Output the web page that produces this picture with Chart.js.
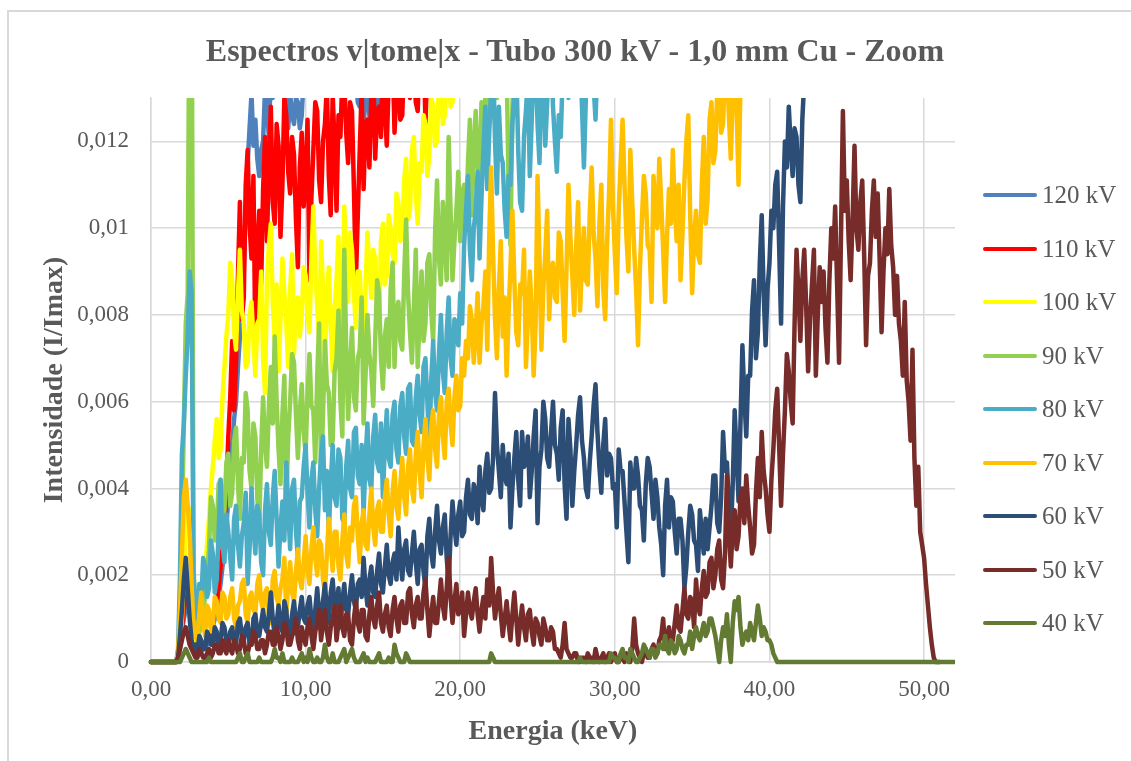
<!DOCTYPE html>
<html lang="pt">
<head>
<meta charset="utf-8">
<title>Espectros - Tubo 300 kV - 1,0 mm Cu</title>
<script src="https://cdn.jsdelivr.net/npm/chart.js@4.4.1/dist/chart.umd.min.js"></script>
<style>
  html, body { margin: 0; padding: 0; background: #ffffff; }
  #quadro { position: relative; width: 1131px; height: 761px; overflow: hidden; background: #ffffff; }
  #moldura { position: absolute; left: 7px; top: 10px; right: -4px; bottom: -4px; border-left: 2px solid #D9D9D9; border-top: 2px solid #D9D9D9; }
  #grafico { position: absolute; left: 0; top: 0; }
  #titulo { position: absolute; left: 575px; top: 30px; transform: translateX(-50%); white-space: nowrap;
            font-family: "Liberation Serif", "Times New Roman", serif; font-weight: bold; font-size: 32px;
            line-height: 40px; color: #595959; }
  .item { position: absolute; left: 983px; height: 30px; }
  .traco { position: absolute; left: 0; top: 13px; width: 54px; height: 4px; border-radius: 2px; }
  .rotulo { position: absolute; left: 59px; top: 0; white-space: nowrap; line-height: 30px;
            font-family: "Liberation Serif", "Times New Roman", serif; font-size: 25px; color: #595959; }
</style>
</head>
<body>
<div id="quadro">
  <div id="moldura"></div>
  <canvas id="grafico" width="1131" height="761"></canvas>
  <div id="titulo">Espectros v|tome|x - Tubo 300 kV - 1,0 mm Cu - Zoom</div>
  <div id="legenda"></div>
</div>
<script>
// Energia dos canais (keV), passo de 0,125 keV
const energia = [
  0,0.125,0.25,0.375,0.5,0.625,0.75,0.875,1,1.125,1.25,1.375,1.5,1.625,1.75,1.875,2,2.125,2.25,2.375,
  2.5,2.625,2.75,2.875,3,3.125,3.25,3.375,3.5,3.625,3.75,3.875,4,4.125,4.25,4.375,4.5,4.625,4.75,4.875,
  5,5.125,5.25,5.375,5.5,5.625,5.75,5.875,6,6.125,6.25,6.375,6.5,6.625,6.75,6.875,7,7.125,7.25,7.375,
  7.5,7.625,7.75,7.875,8,8.125,8.25,8.375,8.5,8.625,8.75,8.875,9,9.125,9.25,9.375,9.5,9.625,9.75,9.875,
  10,10.125,10.25,10.375,10.5,10.625,10.75,10.875,11,11.125,11.25,11.375,11.5,11.625,11.75,11.875,12,12.125,12.25,12.375,
  12.5,12.625,12.75,12.875,13,13.125,13.25,13.375,13.5,13.625,13.75,13.875,14,14.125,14.25,14.375,14.5,14.625,14.75,14.875,
  15,15.125,15.25,15.375,15.5,15.625,15.75,15.875,16,16.125,16.25,16.375,16.5,16.625,16.75,16.875,17,17.125,17.25,17.375,
  17.5,17.625,17.75,17.875,18,18.125,18.25,18.375,18.5,18.625,18.75,18.875,19,19.125,19.25,19.375,19.5,19.625,19.75,19.875,
  20,20.125,20.25,20.375,20.5,20.625,20.75,20.875,21,21.125,21.25,21.375,21.5,21.625,21.75,21.875,22,22.125,22.25,22.375,
  22.5,22.625,22.75,22.875,23,23.125,23.25,23.375,23.5,23.625,23.75,23.875,24,24.125,24.25,24.375,24.5,24.625,24.75,24.875,
  25,25.125,25.25,25.375,25.5,25.625,25.75,25.875,26,26.125,26.25,26.375,26.5,26.625,26.75,26.875,27,27.125,27.25,27.375,
  27.5,27.625,27.75,27.875,28,28.125,28.25,28.375,28.5,28.625,28.75,28.875,29,29.125,29.25,29.375,29.5,29.625,29.75,29.875,
  30,30.125,30.25,30.375,30.5,30.625,30.75,30.875,31,31.125,31.25,31.375,31.5,31.625,31.75,31.875,32,32.125,32.25,32.375,
  32.5,32.625,32.75,32.875,33,33.125,33.25,33.375,33.5,33.625,33.75,33.875,34,34.125,34.25,34.375,34.5,34.625,34.75,34.875,
  35,35.125,35.25,35.375,35.5,35.625,35.75,35.875,36,36.125,36.25,36.375,36.5,36.625,36.75,36.875,37,37.125,37.25,37.375,
  37.5,37.625,37.75,37.875,38,38.125,38.25,38.375,38.5,38.625,38.75,38.875,39,39.125,39.25,39.375,39.5,39.625,39.75,39.875,
  40,40.125,40.25,40.375,40.5,40.625,40.75,40.875,41,41.125,41.25,41.375,41.5,41.625,41.75,41.875,42,42.125,42.25,42.375,
  42.5,42.625,42.75,42.875,43,43.125,43.25,43.375,43.5,43.625,43.75,43.875,44,44.125,44.25,44.375,44.5,44.625,44.75,44.875,
  45,45.125,45.25,45.375,45.5,45.625,45.75,45.875,46,46.125,46.25,46.375,46.5,46.625,46.75,46.875,47,47.125,47.25,47.375,
  47.5,47.625,47.75,47.875,48,48.125,48.25,48.375,48.5,48.625,48.75,48.875,49,49.125,49.25,49.375,49.5,49.625,49.75,49.875,
  50,50.125,50.25,50.375,50.5,50.625,50.75,50.875,51,51.125,51.25,51.375,51.5,51.625,51.75,51.875,52
];

// Intensidade relativa (I/Imax) por tensão do tubo (uma linha = 2,5 keV)
const kv120 = [
  0,0,0,0,0,0,0,0,0,0,0,0,0,0,0.0001,0.0003,0.0007,0.0010,0.0012,0.0014,
  0.0016,0.0009,0.0004,0.0003,0.0002,0.0003,0.0002,0.0004,0.0003,0.0004,0.0005,0.0006,0.0008,0.0010,0.0012,0.0015,0.0018,0.0022,0.0026,0.0031,
  0.0038,0.0044,0.0050,0.0056,0.0060,0.0068,0.0075,0.0082,0.0090,0.0104,0.0115,0.0123,0.0131,0.0119,0.0125,0.0116,0.0112,0.0118,0.0120,0.0132,
  0.0128,0.0121,0.0136,0.0130,0.0142,0.0135,0.0138,0.0131,0.0133,0.0139,0.0127,0.0123,0.0131,0.0126,0.0124,0.0130,0.0129,0.0123,0.0126,0.0135,
  0.0133,0.0138,0.0140,0.0135,0.0146,0.0140,0.0139,0.0143,0.0144,0.0138,0.0137,0.0142,0.0148,0.0139,0.0141,0.0146,0.0145,0.0137,0.0138,0.0143,
  0.0147,0.0140,0.0136,0.0142,0.0141,0.0133,0.0134,0.0129,0.0128,0.0134,0.0124,0.0130,0.0131,0.0126,0.0123,0.0129,0.0127,0.0131,0.0125,0.0132,
  0.0136,0.0140,0.0143,0.0147,0.0150,0.0153,0.0156,0.0159,0.0162
];
const kv110 = [
  0,0,0,0,0,0,0,0,0,0,0,0,0,0,0.0001,0.0004,0.0008,0.0012,0.0015,0.0018,
  0.0020,0.0011,0.0005,0.0003,0.0002,0.0003,0.0003,0.0004,0.0004,0.0005,0.0006,0.0007,0.0009,0.0011,0.0014,0.0017,0.0022,0.0026,0.0031,0.0040,
  0.0052,0.0061,0.0074,0.0058,0.0069,0.0089,0.0106,0.0079,0.0084,0.0110,0.0118,0.0101,0.0093,0.0112,0.0073,0.0095,0.0104,0.0087,0.0109,0.0121,
  0.0097,0.0115,0.0128,0.0106,0.0101,0.0124,0.0119,0.0098,0.0110,0.0130,0.0126,0.0113,0.0108,0.0121,0.0117,0.0102,0.0091,0.0114,0.0122,0.0105,
  0.0112,0.0125,0.0088,0.0107,0.0118,0.0129,0.0127,0.0111,0.0106,0.0120,0.0124,0.0133,0.0112,0.0103,0.0131,0.0119,0.0104,0.0126,0.0121,0.0135,
  0.0134,0.0122,0.0115,0.0129,0.0127,0.0109,0.0088,0.0103,0.0118,0.0132,0.0109,0.0124,0.0125,0.0114,0.0131,0.0137,0.0116,0.0127,0.0128,0.0121,
  0.0139,0.0128,0.0119,0.0134,0.0133,0.0140,0.0122,0.0131,0.0137,0.0125,0.0126,0.0139,0.0141,0.0133,0.0130,0.0142,0.0138,0.0129,0.0127,0.0140,
  0.0136,0.0145,0.0124,0.0137,0.0140,0.0144,0.0147,0.0150,0.0152,0.0155,0.0158,0.0161,0.0165
];
const kv100 = [
  0,0,0,0,0,0,0,0,0,0,0,0,0,0,0.0001,0.0004,0.0010,0.0021,0.0030,0.0036,
  0.0035,0.0015,0.0006,0.0004,0.0003,0.0006,0.0010,0.0015,0.0021,0.0027,0.0033,0.0040,0.0045,0.0051,0.0056,0.0047,0.0049,0.0061,0.0068,0.0075,
  0.0080,0.0092,0.0088,0.0076,0.0072,0.0085,0.0095,0.0081,0.0078,0.0068,0.0069,0.0080,0.0083,0.0074,0.0066,0.0078,0.0079,0.0090,0.0070,0.0062,
  0.0088,0.0096,0.0101,0.0083,0.0074,0.0087,0.0067,0.0079,0.0093,0.0085,0.0078,0.0068,0.0086,0.0094,0.0071,0.0082,0.0084,0.0075,0.0080,0.0091,
  0.0089,0.0080,0.0076,0.0093,0.0105,0.0090,0.0082,0.0073,0.0097,0.0086,0.0070,0.0084,0.0091,0.0078,0.0067,0.0081,0.0088,0.0098,0.0079,0.0071,
  0.0105,0.0092,0.0083,0.0099,0.0095,0.0085,0.0077,0.0090,0.0090,0.0080,0.0072,0.0086,0.0099,0.0091,0.0084,0.0095,0.0093,0.0082,0.0078,0.0097,
  0.0101,0.0087,0.0089,0.0103,0.0100,0.0094,0.0092,0.0108,0.0106,0.0097,0.0098,0.0111,0.0116,0.0102,0.0104,0.0118,0.0121,0.0108,0.0101,0.0115,
  0.0113,0.0126,0.0124,0.0112,0.0117,0.0130,0.0128,0.0119,0.0120,0.0134,0.0133,0.0124,0.0126,0.0137,0.0135,0.0128,0.0129,0.0140,0.0138,0.0141,
  0.0142,0.0139,0.0136,0.0143,0.0145,0.0148,0.0150,0.0153,0.0155,0.0158,0.0160
];
const kv90 = [
  0,0,0,0,0,0,0,0,0,0,0,0,0,0,0.0002,0.0010,0.0030,0.0055,0.0078,0.0085,
  0.0170,0.0170,0.0022,0.0011,0.0006,0.0007,0.0009,0.0012,0.0015,0.0020,0.0026,0.0038,0.0036,0.0028,0.0030,0.0041,0.0042,0.0033,0.0035,0.0046,
  0.0048,0.0036,0.0039,0.0051,0.0054,0.0041,0.0033,0.0047,0.0046,0.0062,0.0058,0.0044,0.0040,0.0055,0.0052,0.0038,0.0031,0.0049,0.0061,0.0050,
  0.0045,0.0059,0.0068,0.0055,0.0075,0.0060,0.0049,0.0041,0.0057,0.0066,0.0036,0.0052,0.0060,0.0071,0.0069,0.0057,0.0047,0.0058,0.0064,0.0053,
  0.0048,0.0062,0.0071,0.0059,0.0058,0.0046,0.0066,0.0078,0.0043,0.0057,0.0074,0.0064,0.0062,0.0050,0.0051,0.0067,0.0070,0.0081,0.0060,0.0052,
  0.0095,0.0072,0.0056,0.0068,0.0077,0.0061,0.0058,0.0070,0.0072,0.0084,0.0055,0.0066,0.0080,0.0071,0.0067,0.0059,0.0074,0.0088,0.0085,0.0070,
  0.0063,0.0075,0.0079,0.0068,0.0086,0.0092,0.0068,0.0081,0.0083,0.0074,0.0072,0.0089,0.0102,0.0085,0.0076,0.0069,0.0082,0.0095,0.0068,0.0080,
  0.0090,0.0074,0.0078,0.0092,0.0094,0.0081,0.0074,0.0099,0.0111,0.0093,0.0087,0.0106,0.0098,0.0088,0.0121,0.0104,0.0088,0.0097,0.0104,0.0113,
  0.0097,0.0108,0.0110,0.0101,0.0115,0.0125,0.0103,0.0118,0.0127,0.0114,0.0112,0.0129,0.0120,0.0131,0.0133,0.0124,0.0126,0.0138,0.0136,0.0130,
  0.0131,0.0142,0.0140,0.0135,0.0138,0.0110,0.0096,0.0128,0.0142,0.0146,0.0150,0.0154,0.0158
];
const kv80 = [
  0,0,0,0,0,0,0,0,0,0,0,0,0,0,0.0003,0.0020,0.0048,0.0055,0.0066,0.0075,
  0.0090,0.0085,0.0020,0.0013,0.0010,0.0018,0.0014,0.0024,0.0022,0.0015,0.0017,0.0028,0.0025,0.0016,0.0019,0.0030,0.0042,0.0027,0.0023,0.0034,
  0.0030,0.0024,0.0019,0.0033,0.0036,0.0027,0.0022,0.0029,0.0032,0.0039,0.0018,0.0026,0.0040,0.0031,0.0025,0.0036,0.0034,0.0023,0.0020,0.0035,
  0.0041,0.0030,0.0027,0.0038,0.0044,0.0033,0.0022,0.0031,0.0037,0.0028,0.0046,0.0035,0.0026,0.0040,0.0042,0.0030,0.0024,0.0037,0.0038,0.0045,
  0.0050,0.0039,0.0031,0.0042,0.0046,0.0035,0.0029,0.0040,0.0048,0.0052,0.0035,0.0044,0.0030,0.0041,0.0050,0.0038,0.0036,0.0049,0.0047,0.0033,
  0.0032,0.0045,0.0051,0.0040,0.0038,0.0053,0.0054,0.0043,0.0041,0.0050,0.0034,0.0047,0.0055,0.0042,0.0040,0.0052,0.0057,0.0046,0.0044,0.0055,
  0.0038,0.0050,0.0058,0.0047,0.0045,0.0057,0.0060,0.0049,0.0046,0.0059,0.0062,0.0052,0.0048,0.0063,0.0064,0.0051,0.0050,0.0061,0.0066,0.0057,
  0.0053,0.0068,0.0070,0.0060,0.0049,0.0065,0.0074,0.0062,0.0058,0.0071,0.0080,0.0067,0.0062,0.0076,0.0084,0.0070,0.0066,0.0079,0.0078,0.0073,
  0.0085,0.0078,0.0096,0.0104,0.0112,0.0095,0.0088,0.0100,0.0104,0.0113,0.0093,0.0107,0.0118,0.0128,0.0109,0.0122,0.0132,0.0140,0.0120,0.0108,
  0.0128,0.0117,0.0115,0.0104,0.0098,0.0112,0.0110,0.0124,0.0131,0.0138,0.0118,0.0106,0.0104,0.0121,0.0127,0.0135,0.0112,0.0125,0.0136,0.0141,
  0.0124,0.0115,0.0133,0.0140,0.0119,0.0129,0.0138,0.0142,0.0128,0.0120,0.0113,0.0126,0.0121,0.0135,0.0136,0.0143,0.0130,0.0139,0.0140,0.0145,
  0.0134,0.0141,0.0142,0.0128,0.0114,0.0130,0.0137,0.0144,0.0141,0.0133,0.0125,0.0138,0.0139,0.0143,0.0146,0.0149,0.0152,0.0155,0.0158,0.0161,
  0.0165
];
const kv70 = [
  0,0,0,0,0,0,0,0,0,0,0,0,0,0,0.0002,0.0012,0.0025,0.0038,0.0042,0.0036,
  0.0030,0.0018,0.0008,0.0006,0.0005,0.0011,0.0016,0.0009,0.0006,0.0013,0.0012,0.0007,0.0008,0.0015,0.0014,0.0010,0.0009,0.0016,0.0015,0.0010,
  0.0011,0.0015,0.0017,0.0010,0.0008,0.0013,0.0014,0.0018,0.0019,0.0011,0.0009,0.0015,0.0016,0.0012,0.0011,0.0018,0.0020,0.0014,0.0012,0.0016,
  0.0017,0.0011,0.0009,0.0019,0.0021,0.0015,0.0013,0.0017,0.0019,0.0024,0.0011,0.0018,0.0023,0.0016,0.0014,0.0021,0.0026,0.0019,0.0017,0.0023,
  0.0029,0.0021,0.0018,0.0026,0.0031,0.0024,0.0020,0.0028,0.0027,0.0019,0.0016,0.0025,0.0033,0.0027,0.0021,0.0030,0.0030,0.0022,0.0019,0.0028,
  0.0034,0.0025,0.0022,0.0031,0.0028,0.0036,0.0038,0.0029,0.0023,0.0032,0.0035,0.0027,0.0026,0.0034,0.0040,0.0031,0.0027,0.0035,0.0037,0.0030,
  0.0030,0.0038,0.0042,0.0034,0.0029,0.0039,0.0044,0.0036,0.0033,0.0041,0.0047,0.0038,0.0034,0.0045,0.0049,0.0040,0.0037,0.0048,0.0053,0.0044,
  0.0038,0.0050,0.0056,0.0047,0.0042,0.0054,0.0058,0.0049,0.0045,0.0057,0.0061,0.0052,0.0047,0.0060,0.0063,0.0055,0.0050,0.0061,0.0066,0.0058,
  0.0059,0.0070,0.0066,0.0074,0.0070,0.0082,0.0079,0.0069,0.0076,0.0085,0.0069,0.0078,0.0082,0.0090,0.0072,0.0098,0.0114,0.0094,0.0079,0.0070,
  0.0086,0.0097,0.0075,0.0084,0.0066,0.0080,0.0091,0.0104,0.0088,0.0076,0.0073,0.0087,0.0085,0.0095,0.0068,0.0079,0.0090,0.0081,0.0066,0.0078,
  0.0112,0.0093,0.0072,0.0086,0.0094,0.0104,0.0079,0.0090,0.0092,0.0084,0.0083,0.0099,0.0097,0.0085,0.0074,0.0091,0.0110,0.0098,0.0089,0.0080,
  0.0096,0.0106,0.0081,0.0092,0.0100,0.0088,0.0087,0.0103,0.0114,0.0099,0.0093,0.0082,0.0101,0.0110,0.0086,0.0079,0.0097,0.0108,0.0125,0.0105,
  0.0094,0.0085,0.0104,0.0115,0.0125,0.0110,0.0098,0.0090,0.0118,0.0106,0.0095,0.0086,0.0073,0.0091,0.0102,0.0112,0.0108,0.0096,0.0095,0.0083,
  0.0112,0.0104,0.0100,0.0116,0.0106,0.0095,0.0083,0.0098,0.0109,0.0101,0.0118,0.0105,0.0097,0.0110,0.0088,0.0099,0.0111,0.0120,0.0126,0.0103,
  0.0085,0.0098,0.0104,0.0094,0.0092,0.0110,0.0121,0.0101,0.0107,0.0125,0.0129,0.0115,0.0118,0.0132,0.0135,0.0122,0.0124,0.0137,0.0138,0.0126,
  0.0116,0.0131,0.0140,0.0128,0.0110,0.0133,0.0136,0.0141,0.0142,0.0146,0.0150,0.0155,0.0160
];
const kv60 = [
  0,0,0,0,0,0,0,0,0,0,0,0,0,0,0.0001,0.0006,0.0012,0.0019,0.0024,0.0017,
  0.0010,0.0005,0.0003,0.0004,0.0002,0.0006,0.0005,0.0003,0.0003,0.0007,0.0006,0.0004,0.0004,0.0008,0.0007,0.0003,0.0005,0.0009,0.0008,0.0005,
  0.0003,0.0007,0.0008,0.0005,0.0004,0.0009,0.0010,0.0006,0.0005,0.0008,0.0009,0.0004,0.0004,0.0010,0.0011,0.0007,0.0006,0.0009,0.0012,0.0008,
  0.0007,0.0011,0.0016,0.0010,0.0006,0.0009,0.0013,0.0008,0.0007,0.0014,0.0012,0.0006,0.0006,0.0011,0.0014,0.0009,0.0008,0.0012,0.0015,0.0010,
  0.0009,0.0013,0.0015,0.0010,0.0007,0.0012,0.0017,0.0011,0.0010,0.0014,0.0018,0.0012,0.0009,0.0016,0.0019,0.0013,0.0012,0.0017,0.0008,0.0014,
  0.0018,0.0012,0.0011,0.0016,0.0020,0.0014,0.0012,0.0018,0.0019,0.0015,0.0024,0.0017,0.0013,0.0019,0.0022,0.0016,0.0015,0.0021,0.0025,0.0018,
  0.0016,0.0022,0.0027,0.0020,0.0018,0.0023,0.0025,0.0019,0.0031,0.0024,0.0019,0.0026,0.0028,0.0021,0.0020,0.0025,0.0030,0.0023,0.0018,0.0026,
  0.0027,0.0021,0.0017,0.0029,0.0033,0.0025,0.0022,0.0030,0.0036,0.0028,0.0025,0.0031,0.0034,0.0024,0.0018,0.0029,0.0037,0.0031,0.0027,0.0034,
  0.0037,0.0029,0.0030,0.0038,0.0042,0.0034,0.0033,0.0041,0.0039,0.0032,0.0045,0.0038,0.0035,0.0044,0.0048,0.0039,0.0040,0.0047,0.0062,0.0050,
  0.0044,0.0038,0.0050,0.0043,0.0041,0.0048,0.0031,0.0040,0.0047,0.0053,0.0042,0.0036,0.0053,0.0045,0.0046,0.0052,0.0038,0.0044,0.0052,0.0058,
  0.0032,0.0045,0.0049,0.0060,0.0056,0.0047,0.0045,0.0053,0.0060,0.0050,0.0048,0.0042,0.0054,0.0058,0.0041,0.0033,0.0056,0.0049,0.0036,0.0044,
  0.0050,0.0057,0.0061,0.0051,0.0047,0.0040,0.0038,0.0046,0.0052,0.0059,0.0064,0.0053,0.0045,0.0039,0.0050,0.0056,0.0043,0.0048,0.0047,0.0040,
  0.0041,0.0031,0.0049,0.0044,0.0044,0.0037,0.0030,0.0023,0.0046,0.0040,0.0040,0.0047,0.0043,0.0036,0.0035,0.0028,0.0041,0.0047,0.0045,0.0039,
  0.0033,0.0042,0.0038,0.0031,0.0027,0.0020,0.0036,0.0042,0.0031,0.0038,0.0037,0.0030,0.0025,0.0033,0.0033,0.0028,0.0017,0.0022,0.0030,0.0036,
  0.0034,0.0028,0.0027,0.0021,0.0035,0.0030,0.0025,0.0033,0.0026,0.0031,0.0036,0.0043,0.0043,0.0032,0.0030,0.0038,0.0053,0.0044,0.0046,0.0036,
  0.0029,0.0041,0.0058,0.0048,0.0037,0.0055,0.0073,0.0061,0.0052,0.0066,0.0066,0.0081,0.0088,0.0070,0.0076,0.0092,0.0103,0.0085,0.0073,0.0086,
  0.0092,0.0104,0.0100,0.0110,0.0113,0.0096,0.0078,0.0105,0.0120,0.0114,0.0128,0.0119,0.0112,0.0123,0.0121,0.0110,0.0106,0.0125,0.0134,0.0137,
  0.0140,0.0144,0.0148,0.0152,0.0156
];
const kv50 = [
  0,0,0,0,0,0,0,0,0,0,0,0,0,0,0.0001,0.0003,0.0005,0.0007,0.0008,0.0006,
  0.0004,0.0003,0.0002,0.0001,0.0001,0.0003,0.0002,0.0001,0.0001,0.0002,0.0003,0.0001,0.0002,0.0004,0.0004,0.0002,0.0002,0.0005,0.0003,0.0002,
  0.0005,0.0003,0.0002,0.0005,0.0004,0.0002,0.0003,0.0006,0.0005,0.0002,0.0002,0.0004,0.0004,0.0007,0.0006,0.0003,0.0003,0.0005,0.0005,0.0002,
  0.0004,0.0007,0.0007,0.0004,0.0004,0.0008,0.0006,0.0003,0.0005,0.0009,0.0008,0.0004,0.0004,0.0006,0.0007,0.0010,0.0005,0.0003,0.0008,0.0006,
  0.0004,0.0008,0.0010,0.0006,0.0003,0.0007,0.0009,0.0012,0.0005,0.0009,0.0012,0.0007,0.0004,0.0008,0.0010,0.0013,0.0005,0.0009,0.0013,0.0008,
  0.0006,0.0011,0.0011,0.0005,0.0004,0.0010,0.0014,0.0009,0.0007,0.0012,0.0012,0.0006,0.0005,0.0011,0.0015,0.0010,0.0008,0.0013,0.0016,0.0009,
  0.0007,0.0011,0.0013,0.0008,0.0006,0.0012,0.0015,0.0010,0.0007,0.0013,0.0014,0.0009,0.0009,0.0016,0.0017,0.0011,0.0008,0.0013,0.0015,0.0010,
  0.0010,0.0016,0.0019,0.0012,0.0006,0.0011,0.0015,0.0009,0.0009,0.0014,0.0019,0.0013,0.0010,0.0017,0.0024,0.0015,0.0009,0.0014,0.0018,0.0011,
  0.0012,0.0016,0.0006,0.0011,0.0016,0.0012,0.0010,0.0014,0.0017,0.0011,0.0007,0.0012,0.0015,0.0010,0.0019,0.0013,0.0024,0.0016,0.0010,0.0014,
  0.0017,0.0011,0.0006,0.0010,0.0014,0.0009,0.0005,0.0011,0.0016,0.0010,0.0004,0.0009,0.0013,0.0008,0.0005,0.0011,0.0012,0.0007,0.0004,0.0010,
  0.0009,0.0006,0.0004,0.0010,0.0008,0.0005,0.0005,0.0008,0.0007,0.0003,0.0003,0.0002,0.0001,0.0004,0.0009,0.0003,0.0002,0.0001,0.0001,0.0002,
  0.0002,0,0,0.0001,0.0001,0,0.0002,0.0001,0.0001,0,0.0003,0.0001,0,0.0001,0.0002,0,0.0001,0.0002,0,0.0001,
  0.0002,0,0,0.0001,0.0001,0,0.0002,0.0001,0,0.0003,0.0010,0.0004,0.0002,0.0001,0,0.0002,0.0003,0.0001,0.0001,0.0003,
  0.0004,0.0002,0.0002,0.0005,0.0006,0.0010,0.0003,0.0006,0.0008,0.0004,0.0005,0.0009,0.0013,0.0008,0.0007,0.0012,0.0017,0.0011,0.0010,0.0015,
  0.0014,0.0008,0.0019,0.0013,0.0011,0.0017,0.0021,0.0015,0.0016,0.0023,0.0024,0.0017,0.0020,0.0026,0.0028,0.0019,0.0017,0.0025,0.0043,0.0030,
  0.0022,0.0031,0.0035,0.0026,0.0029,0.0038,0.0040,0.0032,0.0043,0.0036,0.0031,0.0025,0.0027,0.0039,0.0047,0.0038,0.0053,0.0044,0.0040,0.0034,
  0.0030,0.0042,0.0049,0.0058,0.0063,0.0050,0.0036,0.0048,0.0058,0.0071,0.0067,0.0060,0.0055,0.0078,0.0095,0.0085,0.0074,0.0088,0.0095,0.0082,
  0.0067,0.0079,0.0087,0.0095,0.0066,0.0080,0.0091,0.0083,0.0090,0.0077,0.0069,0.0088,0.0100,0.0093,0.0105,0.0087,0.0069,0.0098,0.0127,0.0104,
  0.0111,0.0097,0.0088,0.0102,0.0119,0.0100,0.0095,0.0106,0.0111,0.0094,0.0073,0.0089,0.0092,0.0104,0.0111,0.0098,0.0108,0.0093,0.0076,0.0090,
  0.0100,0.0094,0.0109,0.0096,0.0091,0.0080,0.0089,0.0078,0.0074,0.0066,0.0083,0.0065,0.0060,0.0051,0.0072,0.0047,0.0036,0.0045,0.0030,0.0027,
  0.0024,0.0018,0.0013,0.0008,0.0004,0.0001,0,0,0
];
const kv40 = [
  0,0,0,0,0,0,0,0,0,0,0,0,0,0,0,0,0.0001,0.0002,0.0003,0.0002,
  0.0001,0,0,0,0,0,0,0,0,0,0.0001,0,0,0,0,0,0,0,0,0,
  0,0,0,0,0,0.0001,0.0002,0,0,0.0001,0.0002,0,0,0,0,0,0.0001,0,0,0,
  0,0,0,0.0001,0.0003,0.0001,0.0001,0,0.0002,0,0,0,0,0.0001,0,0,0,0.0001,0.0002,0,
  0.0001,0,0.0003,0.0001,0,0,0.0001,0,0,0.0001,0.0004,0.0001,0,0,0.0002,0,0,0,0.0001,0.0002,
  0.0003,0,0.0001,0.0002,0.0003,0.0001,0,0,0,0.0001,0.0002,0,0.0001,0,0,0,0,0.0001,0.0002,0,
  0,0,0,0.0001,0,0,0.0004,0.0002,0.0001,0,0,0,0.0002,0.0001,0,0,0,0,0,0,
  0,0,0,0,0,0,0,0,0,0,0,0,0,0,0,0,0,0,0,0,
  0,0,0,0,0,0,0,0,0,0,0,0,0,0,0,0,0.0002,0.0001,0,0,
  0,0,0,0,0,0,0,0,0,0,0,0,0,0,0,0,0,0,0,0,
  0,0,0,0,0,0,0,0,0,0,0,0,0,0,0,0,0,0,0,0,
  0,0,0.0001,0,0,0,0,0,0,0,0,0,0,0,0,0,0,0,0.0002,0.0001,
  0.0001,0,0,0.0002,0.0003,0.0001,0.0001,0,0.0003,0.0002,0.0001,0,0,0.0001,0.0002,0.0004,0.0003,0.0002,0.0001,0.0003,
  0.0003,0.0001,0.0002,0.0004,0.0004,0.0003,0.0006,0.0003,0.0002,0.0005,0.0004,0.0002,0.0003,0.0006,0.0005,0.0003,0.0002,0.0004,0.0004,0.0007,
  0.0003,0.0006,0.0008,0.0006,0.0005,0.0007,0.0009,0.0006,0.0007,0.0010,0.0010,0.0008,0.0006,0.0003,0,0.0005,0.0008,0.0006,0.0011,0.0004,
  0,0.0009,0.0014,0.0012,0.0015,0.0008,0.0004,0.0006,0.0007,0.0005,0.0009,0.0007,0.0005,0.0009,0.0013,0.0010,0.0006,0.0008,0.0007,0.0005,
  0.0005,0.0004,0.0002,0.0001,0,0,0,0,0,0,0,0,0,0,0,0,0,0,0,0,
  0,0,0,0,0,0,0,0,0,0,0,0,0,0,0,0,0,0,0,0,
  0,0,0,0,0,0,0,0,0,0,0,0,0,0,0,0,0,0,0,0,
  0,0,0,0,0,0,0,0,0,0,0,0,0,0,0,0,0,0,0,0,
  0,0,0,0,0,0,0,0,0,0,0,0,0,0,0,0,0
];

// Séries na ordem da legenda
const rotulos = ['120 kV','110 kV','100 kV','90 kV','80 kV','70 kV','60 kV','50 kV','40 kV'];
const series  = [kv120, kv110, kv100, kv90, kv80, kv70, kv60, kv50, kv40];
const cores   = ['#4F81BD','#FF0000','#FFFF00','#92D050','#4BACC6','#FFC000','#2C4D75','#772C2A','#627A32'];

// Marcas dos eixos
const ticksEnergia = [0, 10, 20, 30, 40, 50];
const ticksIntensidade = [0, 0.002, 0.004, 0.006, 0.008, 0.01, 0.012];

const serif = "'Liberation Serif', 'Times New Roman', serif";
const cinza = '#595959';
const grade = '#D9D9D9';

const datasets = series.map((vals, k) => ({
  label: rotulos[k],
  data: vals.map((v, i) => ({ x: energia[i], y: v })),
  borderColor: cores[k],
  backgroundColor: cores[k],
  borderWidth: 4.5,
  pointRadius: 0,
  pointHoverRadius: 0,
  tension: 0,
  fill: false,
  borderJoinStyle: 'round',
  borderCapStyle: 'round',
  order: series.length - 1 - k,   // 40 kV desenhada por cima
  clip: { left: 3, top: 0, right: 0, bottom: 3 }
}));

new Chart(document.getElementById('grafico'), {
  type: 'line',
  data: { datasets },
  options: {
    responsive: false,
    animation: false,
    events: [],
    layout: { padding: { left: 30, top: 98, right: 176, bottom: 0 } },
    plugins: { legend: { display: false }, title: { display: false }, tooltip: { enabled: false } },
    scales: {
      x: {
        type: 'linear', min: 0, max: 52,
        afterBuildTicks: s => { s.ticks = ticksEnergia.map(v => ({ value: v })); },
        afterFit: s => { s.height = 99; },
        ticks: {
          callback: v => v.toFixed(2).replace('.', ','),
          font: { family: serif, size: 23 }, color: cinza, padding: 14, maxRotation: 0, autoSkip: false
        },
        grid: { color: grade, lineWidth: 1.5, drawTicks: false },
        border: { color: grade, width: 1.5 },
        title: { display: true, text: 'Energia (keV)', color: cinza,
                 font: { family: serif, size: 28, weight: 'bold' }, padding: { top: 0, bottom: 12 } }
      },
      y: {
        type: 'linear', min: 0, max: 0.013,
        afterBuildTicks: s => { s.ticks = ticksIntensidade.map(v => ({ value: v })); },
        afterFit: s => { s.width = 121; },
        ticks: {
          callback: v => v === 0 ? '0' : String(Number(v.toFixed(3))).replace('.', ','),
          font: { family: serif, size: 23 }, color: cinza, padding: 22, autoSkip: false
        },
        grid: { color: grade, lineWidth: 1.5, drawTicks: false },
        border: { color: grade, width: 1.5 },
        title: { display: true, text: 'Intensidade (I/Imax)', color: cinza,
                 font: { family: serif, size: 28, weight: 'bold' }, padding: { top: 8, bottom: 0 } }
      }
    }
  }
});

// Legenda à direita
const legenda = document.getElementById('legenda');
rotulos.forEach((r, k) => {
  const item = document.createElement('div');
  item.className = 'item';
  item.style.top = (180 + k * 53.5) + 'px';
  const traco = document.createElement('div');
  traco.className = 'traco';
  traco.style.background = cores[k];
  const txt = document.createElement('div');
  txt.className = 'rotulo';
  txt.textContent = r;
  item.appendChild(traco);
  item.appendChild(txt);
  legenda.appendChild(item);
});
</script>
</body>
</html>
